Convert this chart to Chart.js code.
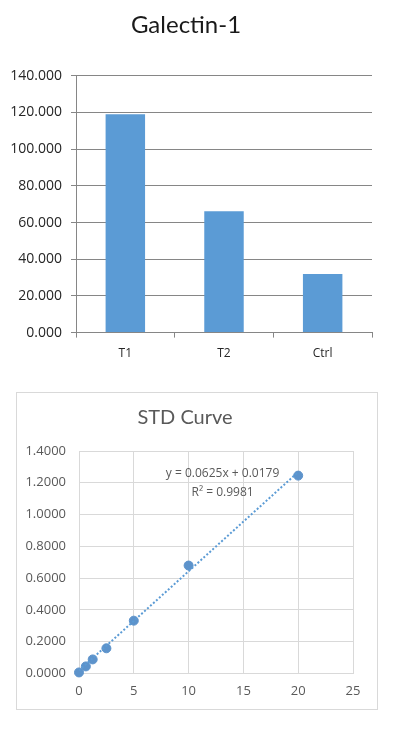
<!DOCTYPE html>
<html>
<head>
<meta charset="utf-8">
<script src="https://cdn.jsdelivr.net/npm/chart.js@4"></script>
<style>
    body { margin: 0; background: #fff; }
    #top { position: absolute; left: 0; top: 0; width: 410px; height: 370px; }
    #box { position: absolute; left: 16px; top: 392px; width: 360px; height: 316px; border: 1px solid #d9d9d9; }
    #box canvas { width: 360px; height: 316px; }
</style>
</head>
<body>
<div id="top"><canvas id="bar"></canvas></div>
<div id="box"><canvas id="std"></canvas></div>
<script>
const groups = ["T1", "T2", "Ctrl"];
const galectin = [119.1, 66.1, 32.0];

const stdX = [0, 0.625, 1.25, 2.5, 5, 10, 20];
const stdY = [0.006, 0.044, 0.088, 0.158, 0.332, 0.679, 1.245];

const trendX = [0, 20];
const trendY = [0.0179, 1.2679];
const trendText = ["y = 0.0625x + 0.0179", "R\u00b2 = 0.9981"];

const font = "'Open Sans', sans-serif";

new Chart(document.getElementById('bar'), {
    type: 'bar',
    data: {
        labels: groups,
        datasets: [{
            data: galectin,
            backgroundColor: '#5b9bd5',
            categoryPercentage: 1,
            barPercentage: 0.4
        }]
    },
    options: {
        responsive: true,
        maintainAspectRatio: false,
        animation: false,
        layout: { padding: { left: 0, right: 38, top: 0, bottom: 0 } },
        plugins: {
            legend: { display: false },
            tooltip: { enabled: false },
            title: {
                display: true,
                text: 'Galectin-1',
                color: '#1a1a1a',
                font: { family: "Lato, sans-serif", size: 24, weight: 'normal' },
                padding: { top: 11, bottom: 36 }
            }
        },
        scales: {
            x: {
                grid: { drawOnChartArea: false, drawTicks: true, tickLength: 5, color: '#868686' },
                border: { display: true, color: '#868686' },
                ticks: { color: '#262626', padding: 9, font: { family: font, size: 12 } }
            },
            y: {
                min: 0,
                max: 140,
                afterFit: scale => { scale.width = 76; },
                grid: { color: '#868686', tickLength: 5 },
                border: { display: true, color: '#868686' },
                ticks: {
                    stepSize: 20,
                    color: '#262626',
                    padding: 9,
                    font: { family: font, size: 14 },
                    callback: value => value.toFixed(3)
                }
            }
        }
    }
});

const equationLabel = {
    id: 'equationLabel',
    afterDraw(chart) {
        const ctx = chart.ctx;
        const x = chart.scales.x.getPixelForValue(13.1);
        const y = chart.scales.y.getPixelForValue(1.261);
        ctx.save();
        ctx.fillStyle = '#595959';
        ctx.font = "12px " + font;
        ctx.textAlign = 'center';
        ctx.textBaseline = 'middle';
        ctx.fillText(trendText[0], x, y);
        ctx.fillText(trendText[1], x, y + 19);
        ctx.restore();
    }
};

new Chart(document.getElementById('std'), {
    type: 'scatter',
    data: {
        datasets: [{
            type: 'line',
            data: trendX.map((x, i) => ({ x: x, y: trendY[i] })),
            borderColor: '#5b9bd5',
            borderWidth: 2,
            borderDash: [2, 2],
            pointRadius: 0,
            fill: false
        }, {
            data: stdX.map((x, i) => ({ x: x, y: stdY[i] })),
            backgroundColor: '#5d93cb',
            borderColor: '#5d93cb',
            pointRadius: 4.5,
            clip: false
        }]
    },
    options: {
        responsive: true,
        maintainAspectRatio: false,
        animation: false,
        layout: { padding: { left: 0, right: 24, top: 0, bottom: 0 } },
        plugins: {
            legend: { display: false },
            tooltip: { enabled: false },
            title: {
                display: true,
                text: 'STD Curve',
                color: '#595959',
                font: { family: "Lato, sans-serif", size: 20, weight: 'normal' },
                padding: { top: 13, bottom: 21 }
            }
        },
        scales: {
            x: {
                type: 'linear',
                min: 0,
                max: 25,
                grid: { color: '#d9d9d9', drawTicks: false },
                border: { color: '#d9d9d9' },
                ticks: { stepSize: 5, color: '#595959', padding: 10, font: { family: font, size: 13 } }
            },
            y: {
                min: 0,
                max: 1.4,
                afterFit: scale => { scale.width = 62; },
                grid: { color: '#d9d9d9', drawTicks: false },
                border: { color: '#d9d9d9' },
                ticks: {
                    stepSize: 0.2,
                    color: '#595959',
                    padding: 13,
                    font: { family: font, size: 13 },
                    callback: value => value.toFixed(4)
                }
            }
        }
    },
    plugins: [equationLabel]
});
</script>
</body>
</html>
